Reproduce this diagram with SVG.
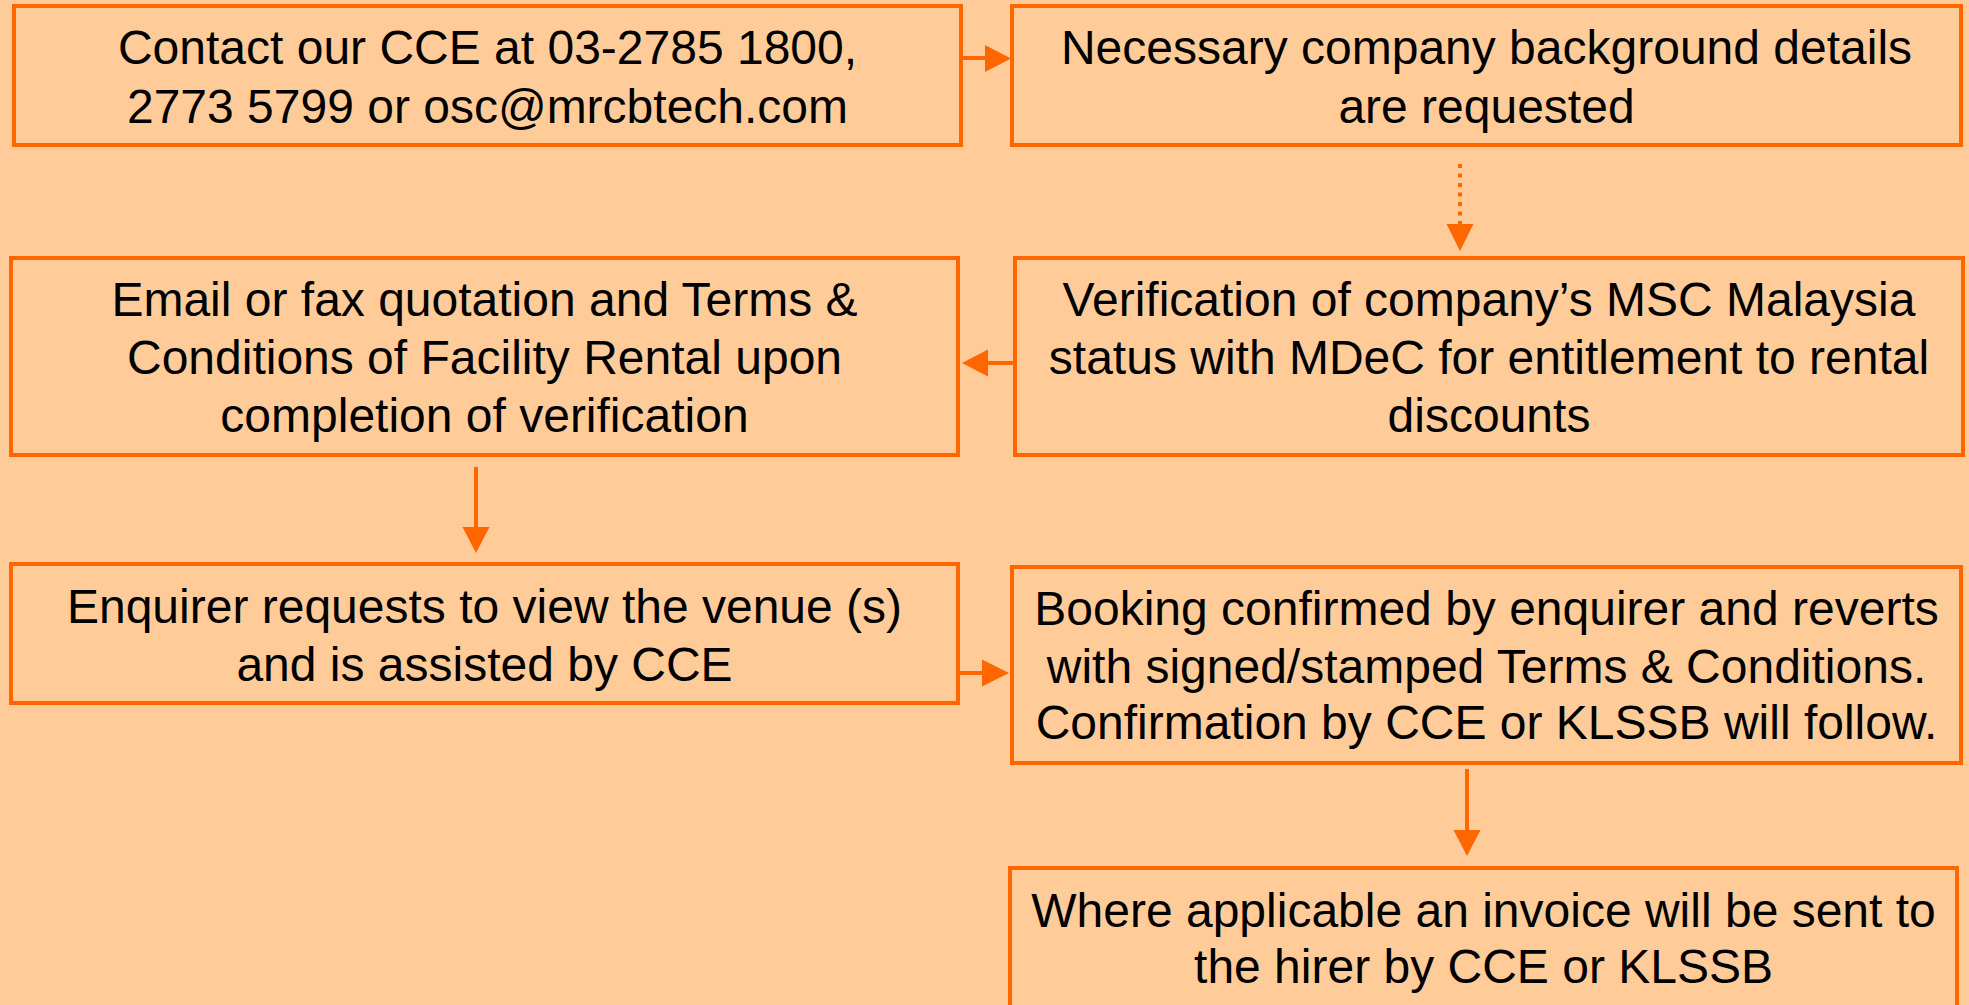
<svg xmlns="http://www.w3.org/2000/svg" width="1969" height="1005" viewBox="0 0 1969 1005">
<style>
.box{fill:none;stroke:#FF6600;stroke-width:4}
.t{font-family:"Liberation Sans",Arial,sans-serif;font-size:48px;fill:#000;text-anchor:middle}
.ln{stroke:#FF6600;stroke-width:4;fill:none}
.dot{stroke:#FF6600;stroke-width:4;fill:none;stroke-dasharray:4 5.5}
.hd{fill:#FF6600}
</style>
<rect x="0" y="0" width="1969" height="1005" fill="#FFCC99"/>
<g id="n1"><rect class="box" x="14" y="6" width="947" height="139"/>
<text class="t" x="487.5" y="64">Contact our CCE at 03-2785 1800,</text>
<text class="t" x="487.5" y="123">2773 5799 or osc@mrcbtech.com</text></g>
<g id="n2"><rect class="box" x="1012" y="6" width="949" height="139"/>
<text class="t" x="1486.5" y="64">Necessary company background details</text>
<text class="t" x="1486.5" y="123">are requested</text></g>
<g id="n3"><rect class="box" x="1015" y="258" width="948" height="197"/>
<text class="t" x="1489" y="316">Verification of company’s MSC Malaysia</text>
<text class="t" x="1489" y="374">status with MDeC for entitlement to rental</text>
<text class="t" x="1489" y="432">discounts</text></g>
<g id="n4"><rect class="box" x="11" y="258" width="947" height="197"/>
<text class="t" x="484.5" y="316">Email or fax quotation and Terms &amp;</text>
<text class="t" x="484.5" y="374">Conditions of Facility Rental upon</text>
<text class="t" x="484.5" y="432">completion of verification</text></g>
<g id="n5"><rect class="box" x="11" y="564" width="947" height="139"/>
<text class="t" x="484.5" y="623">Enquirer requests to view the venue (s)</text>
<text class="t" x="484.5" y="681">and is assisted by CCE</text></g>
<g id="n6"><rect class="box" x="1012" y="567" width="949" height="196"/>
<text class="t" x="1486.5" y="625">Booking confirmed by enquirer and reverts</text>
<text class="t" x="1486.5" y="683">with signed/stamped Terms &amp; Conditions.</text>
<text class="t" x="1486.5" y="739">Confirmation by CCE or KLSSB will follow.</text></g>
<g id="n7"><rect class="box" x="1010" y="868" width="947" height="160"/>
<text class="t" x="1483.5" y="927">Where applicable an invoice will be sent to</text>
<text class="t" x="1483.5" y="983">the hirer by CCE or KLSSB</text></g>
<g id="connectors">
<line class="ln" x1="961" y1="58" x2="986" y2="58"/>
<polygon class="hd" points="985,45 1011,58.5 985,72"/>
<line class="dot" x1="1460" y1="164" x2="1460" y2="225"/>
<polygon class="hd" points="1446.5,224 1473.5,224 1460,251"/>
<line class="ln" x1="1015" y1="363" x2="987" y2="363"/>
<polygon class="hd" points="988,349.5 962,363 988,376.5"/>
<line class="ln" x1="476" y1="467" x2="476" y2="528"/>
<polygon class="hd" points="462.5,527 489.5,527 476,553"/>
<line class="ln" x1="958" y1="673" x2="983" y2="673"/>
<polygon class="hd" points="982,659.5 1009,673 982,686.5"/>
<line class="ln" x1="1467" y1="769" x2="1467" y2="831"/>
<polygon class="hd" points="1453.5,830 1480.5,830 1467,856"/>
</g>
</svg>
